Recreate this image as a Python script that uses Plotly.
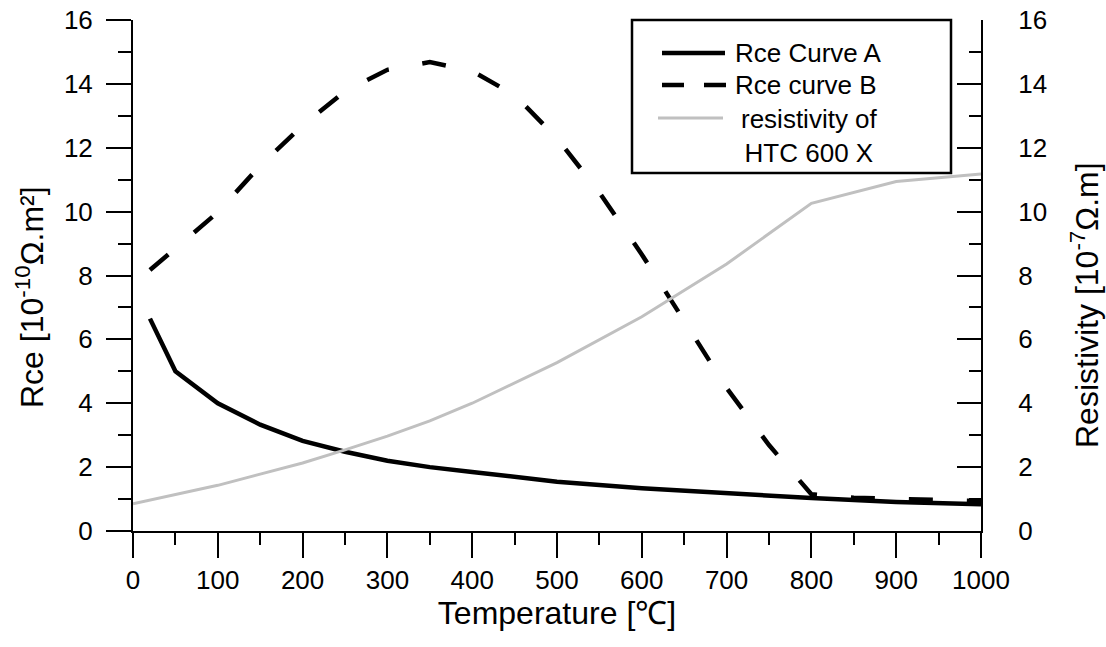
import plotly.graph_objects as go

# Curve A (left axis, 10^-10 Ω.m²)
temp_a = [20, 50, 100, 150, 200, 250, 300, 350, 400, 500, 600, 700, 800, 900, 1000]
rce_a = [6.65, 5.0, 4.0, 3.33, 2.82, 2.48, 2.2, 2.0, 1.85, 1.54, 1.34, 1.18, 1.03, 0.91, 0.84]

# Curve B (left axis, 10^-10 Ω.m²)
temp_b = [20, 50, 100, 150, 200, 250, 300, 350, 400, 450, 500, 550, 600, 650, 700, 750, 800, 850, 900, 950, 1000]
rce_b = [8.17, 8.85, 9.98, 11.44, 12.7, 13.77, 14.44, 14.68, 14.4, 13.65, 12.3, 10.6, 8.66, 6.58, 4.48, 2.69, 1.15, 1.04, 1.0, 0.97, 0.94]

# Resistivity of HTC 600 X (right axis, 10^-7 Ω.m)
temp_r = [0, 50, 100, 150, 200, 250, 300, 350, 400, 500, 600, 700, 800, 900, 1000]
resistivity = [0.85, 1.14, 1.43, 1.78, 2.13, 2.54, 2.97, 3.45, 4.0, 5.27, 6.71, 8.36, 10.26, 10.94, 11.18]

x_ticks = [0, 100, 200, 300, 400, 500, 600, 700, 800, 900, 1000]
y_ticks = [0, 2, 4, 6, 8, 10, 12, 14, 16]

names = ["Rce Curve A", "Rce curve B", "resistivity of<br>HTC 600 X"]

FONT = "Arial, Liberation Sans, sans-serif"

fig = go.Figure()
fig.add_trace(go.Scatter(x=temp_a, y=rce_a, name=names[0], mode="lines",
                         line=dict(color="black", width=4.5)))
fig.add_trace(go.Scatter(x=temp_b, y=rce_b, name=names[1], mode="lines",
                         line=dict(color="black", width=4.5, dash="24px,34px")))
fig.add_trace(go.Scatter(x=temp_r, y=resistivity, name=names[2],
                         mode="lines", yaxis="y2",
                         line=dict(color="#c0c0c0", width=3)))

axis_common = dict(showgrid=False, zeroline=False, showline=True, linecolor="black",
                   linewidth=2, tickcolor="black", tickwidth=2, automargin=False,
                   tickfont=dict(family=FONT, size=26, color="black"))

# plot-area geometry (px) used to place the hand-drawn legend and titles
L, R, T, B = 133, 981, 20, 531
def px(xpix):
    return (xpix - L) / (R - L)
def py(ypix):
    return (B - ypix) / (B - T)

shapes = [
    # legend frame
    dict(type="rect", xref="paper", yref="paper", x0=px(632), x1=px(951), y0=py(173), y1=py(20),
         line=dict(color="black", width=2.5), fillcolor="white", layer="above"),
    # legend samples
    dict(type="line", xref="paper", yref="paper", x0=px(662), x1=px(725), y0=py(53), y1=py(53),
         line=dict(color="black", width=4.5), layer="above"),
    dict(type="line", xref="paper", yref="paper", x0=px(662), x1=px(726), y0=py(85), y1=py(85),
         line=dict(color="black", width=4.5, dash="22px,20px"), layer="above"),
    dict(type="line", xref="paper", yref="paper", x0=px(658), x1=px(723), y0=py(118), y1=py(118),
         line=dict(color="#c0c0c0", width=3), layer="above"),
]

lfont = dict(family=FONT, size=26, color="black")
annotations = [
    dict(text=names[0], xref="paper", yref="paper", x=px(733), y=py(53), xanchor="left", yanchor="middle",
         showarrow=False, font=lfont),
    dict(text=names[1], xref="paper", yref="paper", x=px(733), y=py(85), xanchor="left", yanchor="middle",
         showarrow=False, font=lfont),
    dict(text=names[2], xref="paper", yref="paper", x=px(809), y=py(136), xanchor="center", yanchor="middle",
         align="center", showarrow=False, font=lfont),
    # y-axis titles
    dict(text="Rce [10<sup>-10</sup>Ω.m²]", xref="paper", yref="paper", x=px(30), y=py(297),
         xanchor="center", yanchor="middle", textangle=-90, showarrow=False,
         font=dict(family=FONT, size=32, color="black")),
    dict(text="Resistivity [10<sup>-7</sup>Ω.m]", xref="paper", yref="paper", x=px(1085), y=py(305),
         xanchor="center", yanchor="middle", textangle=-90, showarrow=False,
         font=dict(family=FONT, size=32, color="black")),
]

fig.update_layout(
    width=1106, height=647,
    margin=dict(l=L, r=1106 - R, t=T, b=647 - B),
    paper_bgcolor="white", plot_bgcolor="white",
    font=dict(family=FONT, color="black"),
    xaxis=dict(range=[0, 1000], tickvals=x_ticks, ticks="outside", ticklen=25,
               minor=dict(dtick=50, tick0=0, ticks="outside", ticklen=12, tickwidth=2, tickcolor="black"),
               title=dict(text="Temperature [℃]", font=dict(family=FONT, size=32), standoff=5),
               **axis_common),
    yaxis=dict(range=[0, 16], tickvals=y_ticks, ticks="outside", ticklen=25,
               minor=dict(dtick=1, tick0=0, ticks="outside", ticklen=13, tickwidth=2, tickcolor="black"),
               ticklabelstandoff=8,
               **axis_common),
    yaxis2=dict(range=[0, 16], tickvals=y_ticks, overlaying="y", side="right",
                ticks="inside", ticklen=24,
                minor=dict(dtick=1, tick0=0, ticks="inside", ticklen=12, tickwidth=2, tickcolor="black"),
                ticklabelstandoff=30,
                **axis_common),
    shapes=shapes,
    annotations=annotations,
    showlegend=False,
)

fig.write_html("out.html")
